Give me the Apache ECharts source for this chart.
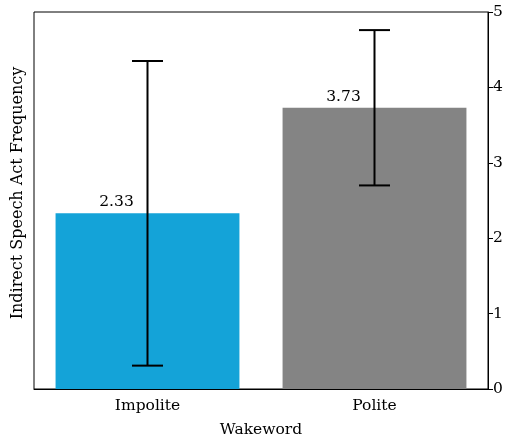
<!DOCTYPE html>
<html>
<head>
<meta charset="utf-8">
<script src="https://cdn.jsdelivr.net/npm/echarts@6/dist/echarts.min.js"></script>
<style>html,body{margin:0;padding:0;background:#fff;}#c{width:508px;height:441px;}</style>
</head>
<body>
<div id="c"></div>
<script>
const categories = ['Impolite', 'Polite'];
const means = [2.33, 3.73];
const errLow = [0.31, 2.70];
const errHigh = [4.35, 4.76];
const barColors = ['#14a3d8', '#848484'];
const yTicks = [0, 1, 2, 3, 4, 5];

const chart = echarts.init(document.getElementById('c'));
const font = 'DejaVu Serif';
chart.setOption({
  animation: false,
  grid: {left: 34, right: 20, top: 12, bottom: 52, show: true, borderColor: '#000', borderWidth: 1,
    containLabel: false, outerBoundsMode: 'none'},
  xAxis: {
    type: 'category', data: categories,
    axisLine: {lineStyle: {color: '#000', width: 1}},
    axisTick: {alignWithLabel: true, length: 5, lineStyle: {color: '#000'}},
    axisLabel: {color: '#000', fontFamily: font, fontSize: 15.5, margin: 9},
    name: 'Wakeword', nameLocation: 'middle', nameGap: 33,
    nameTextStyle: {color: '#000', fontFamily: font, fontSize: 15.5}
  },
  yAxis: {
    type: 'value', position: 'right', min: yTicks[0], max: yTicks[yTicks.length-1], interval: 1,
    axisLine: {show: true, lineStyle: {color: '#000', width: 1}},
    axisTick: {show: true, length: 5, lineStyle: {color: '#000'}},
    axisLabel: {color: '#000', fontFamily: font, fontSize: 15.5, margin: 5},
    splitLine: {show: false}
  },
  graphic: [{
    type: 'text', x: 18, y: 193, rotation: Math.PI / 2,
    style: {text: 'Indirect Speech Act Frequency', fill: '#000', font: '16px "DejaVu Serif"', align: 'center', verticalAlign: 'middle'}
  }],
  series: [{
    type: 'bar', barWidth: '81%',
    data: means.map((v, i) => ({value: v, itemStyle: {color: barColors[i]}})),
    label: {show: true, position: 'top', distance: 3, offset: [-31, 0], color: '#000', fontFamily: font, fontSize: 15.5,
      formatter: p => p.value.toFixed(2)}
  }, {
    type: 'custom',
    data: categories.map((c, i) => [i, errLow[i], errHigh[i]]),
    renderItem: function (params, api) {
      const lo = api.coord([api.value(0), api.value(1)]);
      const hi = api.coord([api.value(0), api.value(2)]);
      const hw = 15.5;
      const st = {stroke: '#000', lineWidth: 2};
      return {type: 'group', children: [
        {type: 'line', shape: {x1: lo[0], y1: lo[1], x2: hi[0], y2: hi[1]}, style: st},
        {type: 'line', shape: {x1: lo[0]-hw, y1: lo[1], x2: lo[0]+hw, y2: lo[1]}, style: st},
        {type: 'line', shape: {x1: hi[0]-hw, y1: hi[1], x2: hi[0]+hw, y2: hi[1]}, style: st}
      ]};
    },
    z: 10
  }]
});
</script>
</body>
</html>
